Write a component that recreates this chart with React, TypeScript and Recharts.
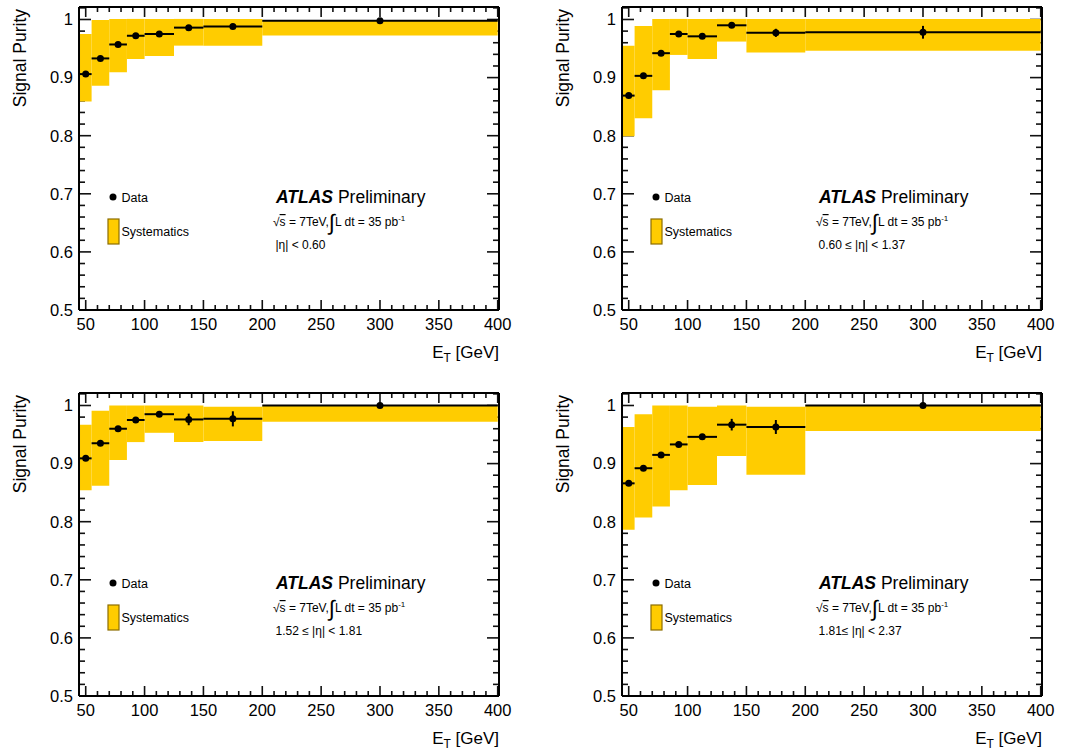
import React from 'react';
import { ScatterChart, Scatter, XAxis, YAxis, ErrorBar, ReferenceArea, Customized } from 'recharts';

// bins in E_T [GeV]
const BIN_CENTERS = [50, 62.5, 77.5, 92.5, 112.5, 137.5, 175, 300];
const BIN_HALF_WIDTHS = [5, 7.5, 7.5, 7.5, 12.5, 12.5, 25, 100];

// |eta| < 0.60
const PURITY_1 = [0.906, 0.933, 0.957, 0.972, 0.975, 0.986, 0.988, 0.998];
const STAT_1 = [0.003, 0.003, 0.003, 0.003, 0.003, 0.003, 0.003, 0.002];
const SYS_LOW_1 = [0.859, 0.886, 0.909, 0.932, 0.937, 0.955, 0.955, 0.9725];
const SYS_HIGH_1 = [0.975, 0.999, 1.001, 1.001, 1.001, 1.001, 1.001, 0.999];

// 0.60 <= |eta| < 1.37
const PURITY_2 = [0.869, 0.903, 0.942, 0.975, 0.971, 0.99, 0.977, 0.978];
const STAT_2 = [0.003, 0.003, 0.003, 0.003, 0.003, 0.003, 0.007, 0.011];
const SYS_LOW_2 = [0.799, 0.83, 0.878, 0.939, 0.932, 0.962, 0.943, 0.946];
const SYS_HIGH_2 = [0.955, 0.989, 1.001, 1.001, 1.001, 1.001, 1.001, 1.001];

// 1.52 <= |eta| < 1.81
const PURITY_3 = [0.909, 0.935, 0.96, 0.975, 0.985, 0.976, 0.977, 1.0];
const STAT_3 = [0.003, 0.003, 0.003, 0.003, 0.003, 0.01, 0.013, 0.002];
const SYS_LOW_3 = [0.854, 0.862, 0.906, 0.937, 0.953, 0.937, 0.939, 0.972];
const SYS_HIGH_3 = [0.967, 0.991, 1.0, 1.0, 1.0, 1.0, 0.998, 1.0];

// 1.81 <= |eta| < 2.37
const PURITY_4 = [0.866, 0.892, 0.915, 0.933, 0.946, 0.967, 0.963, 1.0];
const STAT_4 = [0.004, 0.004, 0.004, 0.004, 0.004, 0.01, 0.012, 0.002];
const SYS_LOW_4 = [0.786, 0.807, 0.826, 0.854, 0.863, 0.913, 0.881, 0.956];
const SYS_HIGH_4 = [0.963, 0.985, 1.0, 1.0, 0.998, 1.0, 0.998, 1.0];

const ETA_LABELS = ['|η| < 0.60', '0.60 ≤ |η| < 1.37', '1.52 ≤ |η| < 1.81', '1.81≤ |η| < 2.37'];

const X_DOMAIN = [44.3, 401.1];
const Y_DOMAIN = [0.5, 1.0215];
const X_MAJOR = [50, 100, 150, 200, 250, 300, 350, 400];
const X_MINOR = [60, 70, 80, 90, 110, 120, 130, 140, 160, 170, 180, 190, 210, 220, 230, 240,
  260, 270, 280, 290, 310, 320, 330, 340, 360, 370, 380, 390];
const Y_MAJOR = [0.5, 0.6, 0.7, 0.8, 0.9, 1];
const Y_MINOR = [0.52, 0.54, 0.56, 0.58, 0.62, 0.64, 0.66, 0.68, 0.72, 0.74, 0.76, 0.78,
  0.82, 0.84, 0.86, 0.88, 0.92, 0.94, 0.96, 0.98, 1.02];

const BAND_COLOR = '#ffcc00';
const FONT = "'Liberation Sans', Arial, Helvetica, sans-serif";
const PLOT_W = 420;
const PLOT_H = 303;
const CHART_H = 366;
const MARGIN_LEFT = 79;
const MARGIN_TOP = 7;
const THIN = 0.01;

// same linear mapping as the chart's axes, used for the ROOT-style inward ticks
const sx = (v: number) => MARGIN_LEFT + ((v - X_DOMAIN[0]) / (X_DOMAIN[1] - X_DOMAIN[0])) * PLOT_W;
const sy = (v: number) => MARGIN_TOP + ((Y_DOMAIN[1] - v) / (Y_DOMAIN[1] - Y_DOMAIN[0])) * PLOT_H;

const InwardTicks = () => {
  const left = MARGIN_LEFT;
  const right = MARGIN_LEFT + PLOT_W;
  const top = MARGIN_TOP;
  const bottom = MARGIN_TOP + PLOT_H;
  const xt = [...X_MAJOR.map((v) => [v, 10]), ...X_MINOR.map((v) => [v, 5])];
  const yt = [...Y_MAJOR.map((v) => [v, 12]), ...Y_MINOR.filter((v) => v < Y_DOMAIN[1]).map((v) => [v, 6])];
  const ln = { stroke: '#111', strokeWidth: 1.6 };
  return (
    <g className="inward-ticks">
      {xt.map(([v, len]) => (
        <g key={`x${v}`}>
          <line {...ln} x1={sx(v)} x2={sx(v)} y1={bottom} y2={bottom - len} />
          <line {...ln} x1={sx(v)} x2={sx(v)} y1={top} y2={top + len} />
        </g>
      ))}
      {yt.map(([v, len]) => (
        <g key={`y${v}`}>
          <line {...ln} x1={left} x2={left + len} y1={sy(v)} y2={sy(v)} />
          <line {...ln} x1={right} x2={right - len} y1={sy(v)} y2={sy(v)} />
        </g>
      ))}
    </g>
  );
};

const PanelText = ({ eta }: { eta: string }) => {
  const right = MARGIN_LEFT + PLOT_W;
  return (
    <g fill="#000" style={{ fontFamily: FONT }}>
      <text x={26} y={9} transform="rotate(-90 26 9)" textAnchor="end" fontSize={17.5}>Signal Purity</text>
      <text x={right} y={358} textAnchor="end" fontSize={17}>
        E<tspan fontSize={12} dy={4}>T</tspan><tspan dy={-4}> [GeV]</tspan>
      </text>
      <circle cx={113} cy={197} r={3.5} fill="#000" />
      <text x={121.5} y={202} fontSize={12.5}>Data</text>
      <rect x={108} y={219} width={11} height={25} fill={BAND_COLOR} stroke="#8c6d00" strokeWidth={1.2} />
      <text x={121.5} y={236} fontSize={12.5}>Systematics</text>
      <text x={276} y={203} fontSize={17.5}>
        <tspan fontWeight="bold" fontStyle="italic">ATLAS</tspan> Preliminary
      </text>
      <text x={273} y={226} fontSize={12}>
        √<tspan style={{ textDecoration: 'overline' }}>s</tspan> = 7TeV,
        <tspan fontSize={22} dy={4}>∫</tspan>
        <tspan dy={-4}>L dt = 35 pb</tspan>
        <tspan fontSize={8} dy={-5}>-1</tspan>
      </text>
      <text x={275.5} y={249} fontSize={12}>{eta}</text>
    </g>
  );
};

type PanelProps = {
  purity: number[];
  stat: number[];
  sysLow: number[];
  sysHigh: number[];
  eta: string;
  width: number;
};

const Panel = ({ purity, stat, sysLow, sysHigh, eta, width }: PanelProps) => {
  const rows = BIN_CENTERS.map((x, i) => ({ x, y: purity[i], ex: BIN_HALF_WIDTHS[i], ey: stat[i] }));
  const margin = { top: MARGIN_TOP, left: MARGIN_LEFT, right: width - MARGIN_LEFT - PLOT_W, bottom: CHART_H - MARGIN_TOP - PLOT_H };
  const frame = { stroke: '#000', strokeWidth: 2 };
  const common = { type: 'number' as const, allowDataOverflow: true, interval: 0 as const };

  return (
    <ScatterChart width={width} height={CHART_H} margin={margin}>
      {BIN_CENTERS.map((c, i) => (
        <ReferenceArea
          key={`sys-${i}`}
          xAxisId="x"
          yAxisId="y"
          x1={c - BIN_HALF_WIDTHS[i]}
          x2={c + BIN_HALF_WIDTHS[i]}
          y1={sysLow[i]}
          y2={sysHigh[i]}
          fill={BAND_COLOR}
          fillOpacity={1}
          stroke="none"
          ifOverflow="visible"
        />
      ))}

      {/* frame top and right */}
      <XAxis xAxisId="top" orientation="top" {...common} domain={X_DOMAIN} height={THIN} mirror tick={false} tickLine={false} axisLine={frame} />
      <YAxis yAxisId="right" orientation="right" {...common} domain={Y_DOMAIN} width={THIN} mirror tick={false} tickLine={false} axisLine={frame} />

      {/* labelled axes */}
      <XAxis
        xAxisId="x"
        dataKey="x"
        {...common}
        domain={X_DOMAIN}
        ticks={X_MAJOR}
        height={THIN}
        tickSize={0}
        tickMargin={8}
        tickLine={false}
        axisLine={frame}
        tick={{ fill: '#000', fontSize: 16.5, fontFamily: FONT }}
      />
      <YAxis
        yAxisId="y"
        dataKey="y"
        {...common}
        domain={Y_DOMAIN}
        ticks={Y_MAJOR}
        width={THIN}
        tickSize={0}
        tickMargin={6}
        tickLine={false}
        axisLine={frame}
        tick={{ fill: '#000', fontSize: 16.5, fontFamily: FONT }}
        tickFormatter={(v: number) => (v === 1 ? '1' : v.toFixed(1))}
      />

      <Scatter
        xAxisId="x"
        yAxisId="y"
        data={rows}
        isAnimationActive={false}
        shape={(p: any) => <circle cx={p.cx} cy={p.cy} r={3.5} fill="#000" />}
      >
        <ErrorBar dataKey="ex" direction="x" width={0} stroke="#000" strokeWidth={2} />
        <ErrorBar dataKey="ey" direction="y" width={0} stroke="#000" strokeWidth={2} />
      </Scatter>

      <Customized component={<InwardTicks />} />
      <Customized component={<PanelText eta={eta} />} />
    </ScatterChart>
  );
};

export default function App() {
  return (
    <div style={{ position: 'absolute', left: 0, top: 0, width: 1069, height: 752, overflow: 'hidden', background: '#fff', fontFamily: FONT }}>
      <div style={{ position: 'absolute', left: 0, top: 0 }}>
        <Panel purity={PURITY_1} stat={STAT_1} sysLow={SYS_LOW_1} sysHigh={SYS_HIGH_1} eta={ETA_LABELS[0]} width={535} />
      </div>
      <div style={{ position: 'absolute', left: 543, top: 0 }}>
        <Panel purity={PURITY_2} stat={STAT_2} sysLow={SYS_LOW_2} sysHigh={SYS_HIGH_2} eta={ETA_LABELS[1]} width={526} />
      </div>
      <div style={{ position: 'absolute', left: 0, top: 386 }}>
        <Panel purity={PURITY_3} stat={STAT_3} sysLow={SYS_LOW_3} sysHigh={SYS_HIGH_3} eta={ETA_LABELS[2]} width={535} />
      </div>
      <div style={{ position: 'absolute', left: 543, top: 386 }}>
        <Panel purity={PURITY_4} stat={STAT_4} sysLow={SYS_LOW_4} sysHigh={SYS_HIGH_4} eta={ETA_LABELS[3]} width={526} />
      </div>
    </div>
  );
}
